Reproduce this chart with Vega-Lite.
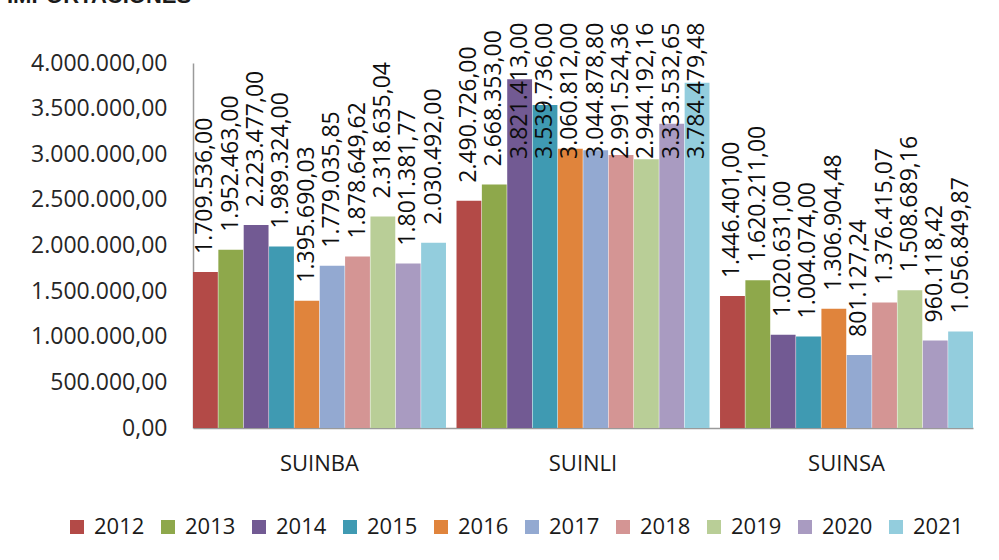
{
  "$schema": "https://vega.github.io/schema/vega-lite/v6.json",
  "width": 780,
  "height": 365,
  "autosize": {"type": "none"},
  "padding": {"left": 193, "top": 63, "right": 26, "bottom": 132},
  "background": "white",
  "title": {
    "text": "IMPORTACIONES",
    "anchor": "start",
    "frame": "group",
    "font": "Liberation Sans",
    "fontSize": 22,
    "fontWeight": "bold",
    "color": "#1a1a1a",
    "dx": -186,
    "offset": 15
  },
  "config": {
    "locale": {"number": {"decimal": ",", "thousands": ".", "grouping": [3], "currency": ["", ""]}},
    "view": {"stroke": null},
    "font": "Open Sans"
  },
  "data": {
    "values": [
      {"empresa": "SUINBA", "year": "2012", "value": 1709536.00},
      {"empresa": "SUINBA", "year": "2013", "value": 1952463.00},
      {"empresa": "SUINBA", "year": "2014", "value": 2223477.00},
      {"empresa": "SUINBA", "year": "2015", "value": 1989324.00},
      {"empresa": "SUINBA", "year": "2016", "value": 1395690.03},
      {"empresa": "SUINBA", "year": "2017", "value": 1779035.85},
      {"empresa": "SUINBA", "year": "2018", "value": 1878649.62},
      {"empresa": "SUINBA", "year": "2019", "value": 2318635.04},
      {"empresa": "SUINBA", "year": "2020", "value": 1801381.77},
      {"empresa": "SUINBA", "year": "2021", "value": 2030492.00},
      {"empresa": "SUINLI", "year": "2012", "value": 2490726.00},
      {"empresa": "SUINLI", "year": "2013", "value": 2668353.00},
      {"empresa": "SUINLI", "year": "2014", "value": 3821413.00},
      {"empresa": "SUINLI", "year": "2015", "value": 3539736.00},
      {"empresa": "SUINLI", "year": "2016", "value": 3060812.00},
      {"empresa": "SUINLI", "year": "2017", "value": 3044878.80},
      {"empresa": "SUINLI", "year": "2018", "value": 2991524.36},
      {"empresa": "SUINLI", "year": "2019", "value": 2944192.16},
      {"empresa": "SUINLI", "year": "2020", "value": 3333532.65},
      {"empresa": "SUINLI", "year": "2021", "value": 3784479.48},
      {"empresa": "SUINSA", "year": "2012", "value": 1446401.00},
      {"empresa": "SUINSA", "year": "2013", "value": 1620211.00},
      {"empresa": "SUINSA", "year": "2014", "value": 1020631.00},
      {"empresa": "SUINSA", "year": "2015", "value": 1004074.00},
      {"empresa": "SUINSA", "year": "2016", "value": 1306904.48},
      {"empresa": "SUINSA", "year": "2017", "value": 801127.24},
      {"empresa": "SUINSA", "year": "2018", "value": 1376415.07},
      {"empresa": "SUINSA", "year": "2019", "value": 1508689.16},
      {"empresa": "SUINSA", "year": "2020", "value": 960118.42},
      {"empresa": "SUINSA", "year": "2021", "value": 1056849.87}
    ]
  },
  "encoding": {
    "x": {
      "field": "empresa",
      "type": "nominal",
      "scale": {"paddingInner": 0.04, "paddingOuter": 0},
      "axis": {
        "title": null,
        "labelAngle": 0,
        "labelFontSize": 22,
        "labelColor": "#1a1a1a",
        "labelPadding": 25,
        "ticks": false,
        "domainColor": "#9a9a9a",
        "domainWidth": 1.5
      }
    },
    "xOffset": {"field": "year", "type": "nominal", "scale": {"paddingInner": 0.02}}
  },
  "layer": [
    {
      "mark": {"type": "bar", "cornerRadiusTop": 3},
      "encoding": {
        "y": {
          "field": "value",
          "type": "quantitative",
          "scale": {"domain": [0, 4000000]},
          "axis": {
            "title": null,
            "values": [0, 500000, 1000000, 1500000, 2000000, 2500000, 3000000, 3500000, 4000000],
            "format": ",.2f",
            "labelFontSize": 23,
            "labelColor": "#262626",
            "labelPadding": 26,
            "ticks": false,
            "grid": false,
            "domainColor": "#9a9a9a",
            "domainWidth": 1.5
          }
        },
        "color": {
          "field": "year",
          "type": "nominal",
          "scale": {
            "domain": ["2012", "2013", "2014", "2015", "2016", "2017", "2018", "2019", "2020", "2021"],
            "range": ["#b34a47", "#8ea84b", "#725a93", "#3f9ab2", "#e0843c", "#93a9d1", "#d49594", "#b9ce97", "#a99bc1", "#93cddd"]
          },
          "legend": {
            "title": null,
            "orient": "none",
            "direction": "horizontal",
            "columns": 10,
            "legendX": -127,
            "legendY": 453,
            "padding": 0,
            "symbolType": "square",
            "symbolSize": 196,
            "symbolStrokeWidth": 0,
            "labelFontSize": 22,
            "labelColor": "#1a1a1a",
            "labelOffset": 6,
            "columnPadding": 12
          }
        }
      }
    },
    {
      "mark": {
        "type": "text",
        "angle": 270,
        "align": "left",
        "baseline": "middle",
        "dx": 18,
        "fontSize": 23,
        "color": "#0d0d0d"
      },
      "encoding": {
        "y": {
          "field": "value",
          "type": "quantitative",
          "scale": {"domain": [0, 2751000], "range": [365, 114], "clamp": true},
          "axis": null
        },
        "text": {"field": "value", "type": "quantitative", "format": ",.2f"}
      }
    }
  ],
  "resolve": {"scale": {"y": "independent"}}
}
